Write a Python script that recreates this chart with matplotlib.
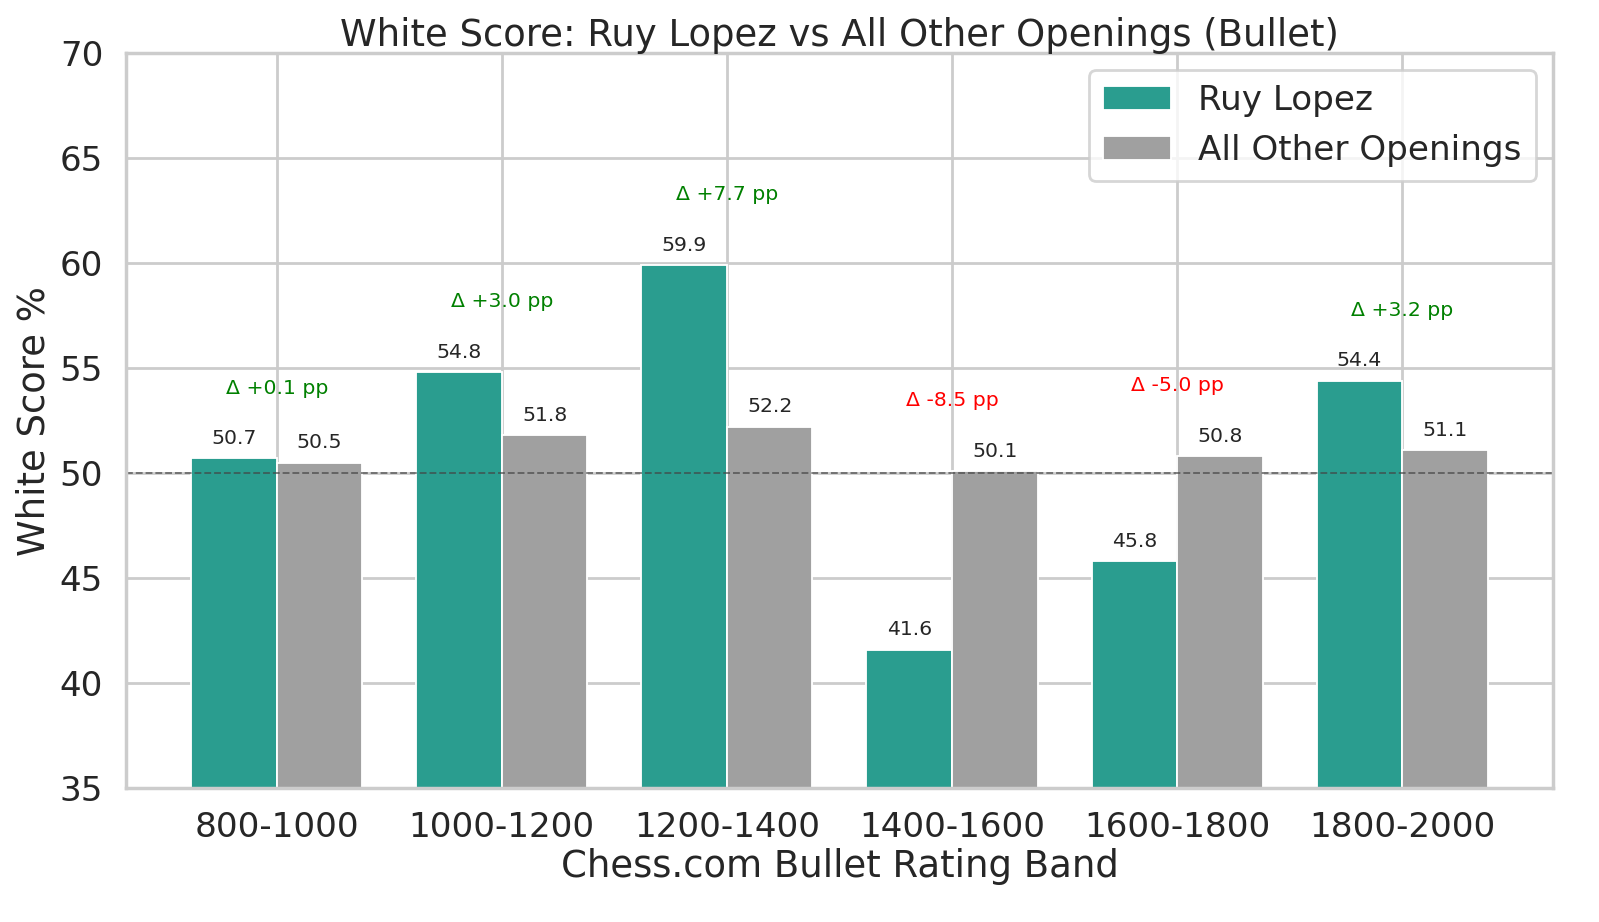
import numpy as np
import matplotlib
matplotlib.use("Agg")
import matplotlib.pyplot as plt
import seaborn as sns

# datos
bands = ["800-1000", "1000-1200", "1200-1400", "1400-1600", "1600-1800", "1800-2000"]
ruy_lopez = [50.7, 54.8, 59.9, 41.6, 45.8, 54.4]
other_openings = [50.5, 51.8, 52.2, 50.1, 50.8, 51.1]
deltas = [0.1, 3.0, 7.7, -8.5, -5.0, 3.2]

sns.set_theme(style="whitegrid", context="talk")

DPI = 133
fig, ax = plt.subplots(figsize=(1599 / DPI, 922 / DPI), dpi=DPI)

x = np.arange(len(bands))
width = 0.38

b1 = ax.bar(x - width / 2, ruy_lopez, width, color="#2a9d8f", label="Ruy Lopez",
            edgecolor="white", linewidth=1)
b2 = ax.bar(x + width / 2, other_openings, width, color="#a0a0a0", label="All Other Openings",
            edgecolor="white", linewidth=1)

for bars in (b1, b2):
    for rect in bars:
        h = rect.get_height()
        ax.text(rect.get_x() + rect.get_width() / 2, h + 0.5, f"{h:.1f}",
                ha="center", va="bottom", fontsize=11)

for i, d in enumerate(deltas):
    top = max(ruy_lopez[i], other_openings[i])
    ax.text(x[i], top + 2.9, f"Δ {d:+.1f} pp", ha="center", va="bottom",
            fontsize=11, color="green" if d >= 0 else "red")

ax.axhline(50, color="#444444", linestyle="--", linewidth=1, alpha=0.7)

ax.set_ylim(35, 70)
ax.set_xticks(x)
ax.set_xticklabels(bands)
ax.tick_params(labelsize=18.5)
ax.set_xlabel("Chess.com Bullet Rating Band", fontsize=20, labelpad=2)
ax.set_ylabel("White Score %", fontsize=20)
ax.set_title("White Score: Ruy Lopez vs All Other Openings (Bullet)", fontsize=20, pad=4)
ax.legend(loc="upper right", fontsize=18.5)

fig.subplots_adjust(left=0.079, right=0.971, top=0.9425, bottom=0.145)
fig.savefig("out.png", dpi=DPI)
